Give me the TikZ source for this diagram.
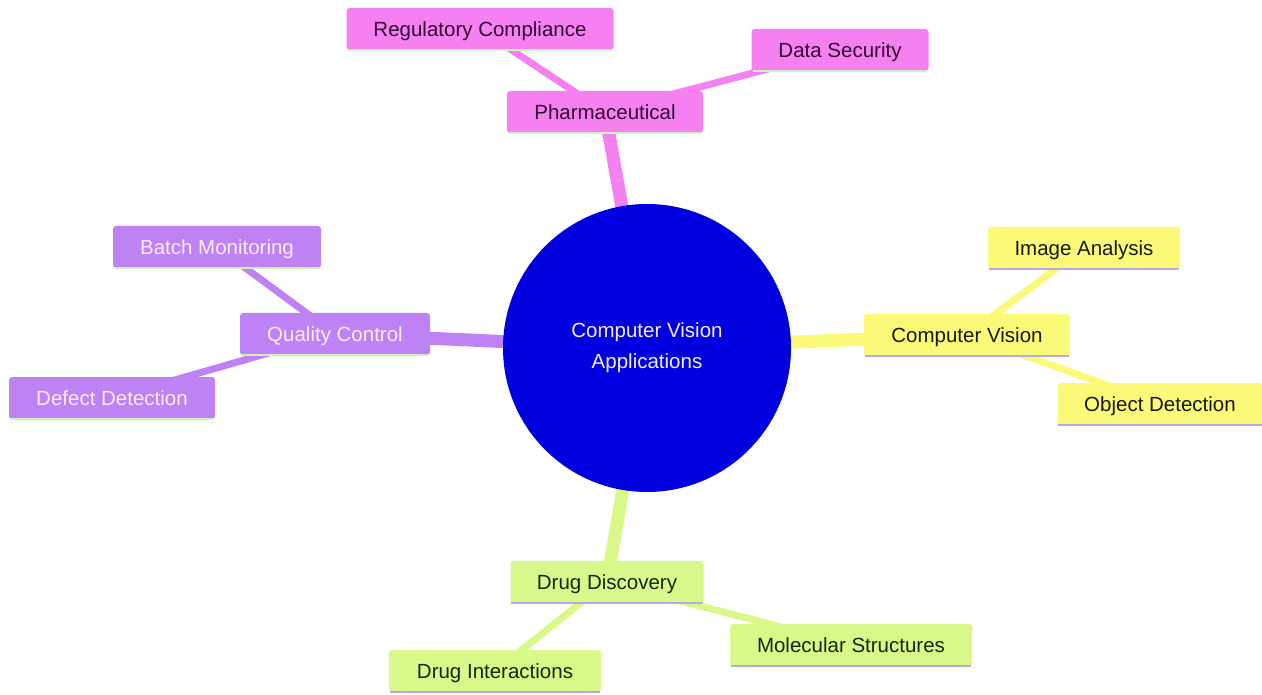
\documentclass[tikz,border=0pt]{standalone}
\usepackage{fontspec}
\setmainfont{Liberation Sans}
\definecolor{pinkC}{RGB}{245,128,240}
\definecolor{purpC}{RGB}{190,130,245}
\definecolor{yelC}{RGB}{250,250,120}
\definecolor{grnC}{RGB}{216,249,138}
\definecolor{rootC}{RGB}{0,0,222}
\definecolor{pinkT}{RGB}{50,10,50}
\definecolor{purpT}{RGB}{245,235,250}
\definecolor{yelT}{RGB}{25,25,10}
\definecolor{grnT}{RGB}{20,40,10}
\definecolor{lineG}{RGB}{205,240,190}
\definecolor{lineL}{RGB}{180,170,225}
\pgfdeclarelayer{bgzero}
\pgfdeclarelayer{edges}
\pgfsetlayers{bgzero,edges,main}
\begin{document}
\begin{tikzpicture}[x=1pt,y=-1pt,
  every node/.style={font=\fontsize{20.5}{31}\selectfont},
  leaf/.style={rectangle, rounded corners=3pt, minimum height=42pt, inner xsep=4pt, inner ysep=0pt, text height=15pt, text depth=0pt},
  pinknode/.style={leaf, fill=pinkC, text=pinkT},
  purpnode/.style={leaf, fill=purpC, text=purpT},
  yelnode/.style={leaf, fill=yelC, text=yelT},
  grnnode/.style={leaf, fill=grnC, text=grnT},
  rootedge/.style={line width=13pt},
  childedge/.style={line width=7pt},
  uline/.style={line width=2.5pt}]
\begin{pgfonlayer}{bgzero}
\fill[white] (0,0) rectangle (1262,695);
\end{pgfonlayer}
\useasboundingbox (0,0) rectangle (1262,695);

\node[circle, fill=rootC, minimum size=288pt, text=purpT, align=center] (root) at (647,348) {\raisebox{-2pt}{\parbox{200pt}{\centering Computer Vision\\Applications}}};

\node[pinknode, minimum width=196pt] (ph) at (605,112) {Pharmaceutical};
\node[pinknode, minimum width=267pt] (rc) at (480,29) {Regulatory Compliance};
\node[pinknode, minimum width=177pt] (ds) at (840,50) {Data Security};

\node[purpnode, minimum width=190pt] (qc) at (335,334) {Quality Control};
\node[purpnode, minimum width=208pt] (bm) at (217,247) {Batch Monitoring};
\node[purpnode, minimum width=206pt] (dd) at (112,398) {Defect Detection};

\node[yelnode, minimum width=206pt] (cv) at (967,335) {Computer Vision};
\node[yelnode, minimum width=192pt] (ia) at (1084,248) {Image Analysis};
\node[yelnode, minimum width=205pt] (od) at (1160,404) {Object Detection};

\node[grnnode, minimum width=193pt] (dg) at (607,582) {Drug Discovery};
\node[grnnode, minimum width=242pt] (ms) at (851,645) {Molecular Structures};
\node[grnnode, minimum width=212pt] (di) at (495,671) {Drug Interactions};

\begin{pgfonlayer}{edges}
  \draw[rootedge, pinkC] (root.center) -- (ph.center);
  \draw[rootedge, purpC] (root.center) -- (qc.center);
  \draw[rootedge, yelC] (root.center) -- (cv.center);
  \draw[rootedge, grnC] (root.center) -- (dg.center);
  \draw[childedge, pinkC] (ph.center) -- (rc.center);
  \draw[childedge, pinkC] (ph.center) -- (ds.center);
  \draw[childedge, purpC] (qc.center) -- (bm.center);
  \draw[childedge, purpC] (qc.center) -- (dd.center);
  \draw[childedge, yelC] (cv.center) -- (ia.center);
  \draw[childedge, yelC] (cv.center) -- (od.center);
  \draw[childedge, grnC] (dg.center) -- (ms.center);
  \draw[childedge, grnC] (dg.center) -- (di.center);
\end{pgfonlayer}

\foreach \n in {ph,rc,ds,qc,bm,dd}
  \draw[uline, lineG] ([xshift=2pt]\n.south west) -- ([xshift=-2pt]\n.south east);
\foreach \n in {cv,ia,od,dg,ms,di}
  \draw[uline, lineL] ([xshift=1pt]\n.south west) -- ([xshift=-1pt]\n.south east);
\end{tikzpicture}
\end{document}
